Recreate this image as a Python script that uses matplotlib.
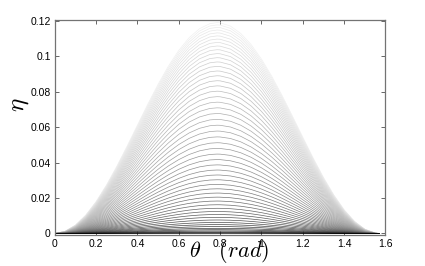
import numpy as np
import matplotlib
matplotlib.use("Agg")
import matplotlib.pyplot as plt

# profile of the curves (normalised to peak = 1), read along theta
theta = [0, 0.05, 0.10, 0.15, 0.20, 0.25, 0.30, 0.35, 0.40, 0.45, 0.50,
         0.55, 0.60, 0.65, 0.70, 0.75, 0.785, 0.80, 0.85, 0.90, 0.95, 1.00,
         1.05, 1.10, 1.15, 1.20, 1.25, 1.30, 1.35, 1.40, 1.45, 1.50, 1.55,
         1.5708]
profile = [0, 0.0100, 0.0395, 0.0873, 0.1516, 0.2298, 0.3188, 0.4150,
           0.5146, 0.6136, 0.7081, 0.7942, 0.8687, 0.9285, 0.9711, 0.9950,
           1.0, 0.9991, 0.9834, 0.9484, 0.8955, 0.8268, 0.7451, 0.6537,
           0.5561, 0.4563, 0.3582, 0.2657, 0.1827, 0.1122, 0.0572, 0.0199,
           0.0017, 0]

# peak height of each curve (top to bottom)
peaks = [0.1190, 0.1177, 0.1163, 0.1148, 0.1132, 0.1115, 0.1097, 0.1078,
         0.1058, 0.1037, 0.1015, 0.0992, 0.0968, 0.0943, 0.0917, 0.0890,
         0.0862, 0.0833, 0.0803, 0.0772, 0.0741, 0.0709, 0.0677, 0.0644,
         0.0611, 0.0578, 0.0545, 0.0512, 0.0480, 0.0448, 0.0417, 0.0387,
         0.0358, 0.0330, 0.0303, 0.0277, 0.0252, 0.0228, 0.0205, 0.0183,
         0.0162, 0.0142, 0.0124, 0.0107, 0.0091, 0.0076, 0.0062, 0.0050,
         0.0039, 0.0029, 0.0021, 0.0014, 0.0008, 0.0004, 0.0001]

plt.rcParams['mathtext.fontset'] = 'cm'
plt.rcParams['font.family'] = 'Liberation Sans'

fig = plt.figure(figsize=(4.25, 2.66), dpi=100)
ax = fig.add_axes([0.129, 0.117, 0.778, 0.808])

th = np.array(theta)
pr = np.array(profile)
n = len(peaks)
for i, p in enumerate(peaks):
    # top curve lightest, bottom curve black
    g = 0.94 * (1 - i / (n - 1)) ** 0.6
    ax.plot(th, p * pr, color=str(g), lw=0.5)

ax.set_xlim(0, 1.6)
ax.set_ylim(-0.0008, 0.1205)
ax.set_xticks([0, 0.2, 0.4, 0.6, 0.8, 1, 1.2, 1.4, 1.6])
ax.set_xticklabels(['0', '0.2', '0.4', '0.6', '0.8', '1', '1.2', '1.4', '1.6'])
ax.set_yticks([0, 0.02, 0.04, 0.06, 0.08, 0.1, 0.12])
ax.set_yticklabels(['0', '0.02', '0.04', '0.06', '0.08', '0.1', '0.12'])
ax.tick_params(direction='in', top=True, right=True, labelsize=7.5,
               length=3, width=0.6, color='0.3', pad=3)
for s in ax.spines.values():
    s.set_color('0.45')
    s.set_linewidth(0.9)

fig.text(0.445, 0.035, r'$\theta\ \ \ (rad)$', fontsize=16, ha='left', va='baseline')
fig.text(0.045, 0.605, r'$\eta$', fontsize=18, rotation=90, ha='center', va='center')

fig.savefig('out.png', dpi=100)
